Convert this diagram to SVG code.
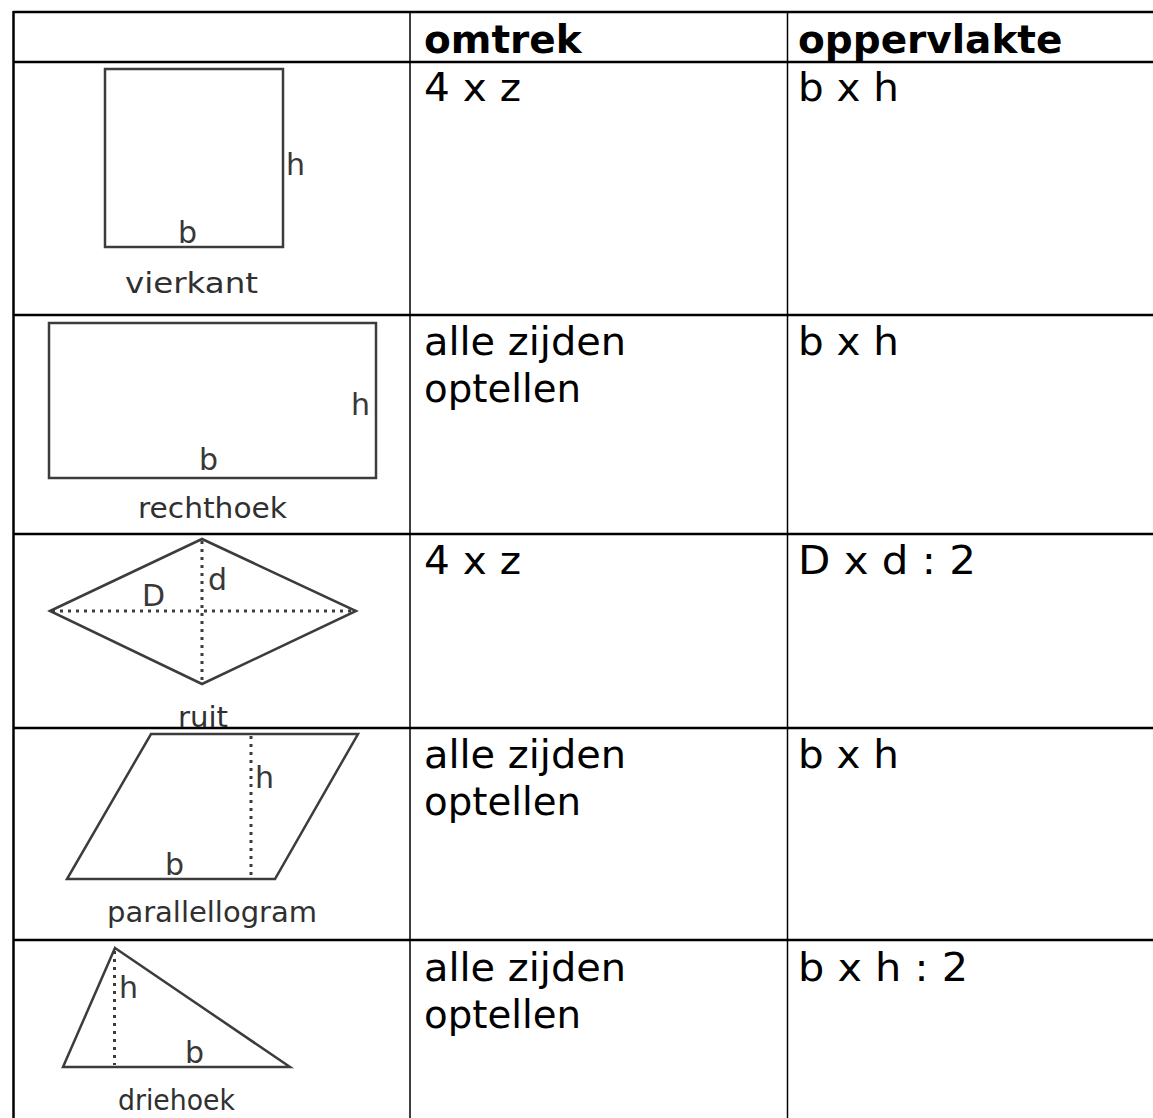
<svg xmlns="http://www.w3.org/2000/svg" width="1153" height="1118" viewBox="0 0 1153 1118">
<style>
.grid line{stroke:#000;stroke-width:2.5}
.grid .thin{stroke-width:1.5}
.hd{font-family:"DejaVu Sans","Liberation Sans",sans-serif;font-weight:bold;font-size:39px;fill:#000}
.tx{font-family:"DejaVu Sans","Liberation Sans",sans-serif;font-size:39px;fill:#000}
.sh{fill:none;stroke:#3c3c3c;stroke-width:2.5;stroke-linejoin:miter}
.dot{fill:none;stroke:#3c3c3c;stroke-width:3;stroke-dasharray:3 5}
.lb{font-family:"DejaVu Sans","Liberation Sans",sans-serif;font-size:30px;fill:#383838}
.nm{font-family:"DejaVu Sans","Liberation Sans",sans-serif;font-size:29px;fill:#303030}
</style>
<rect width="1153" height="1118" fill="#fff"/>
<g id="grid" class="grid">
<line x1="13" y1="12" x2="1153" y2="12"/>
<line x1="13" y1="62" x2="1153" y2="62"/>
<line x1="13" y1="315" x2="1153" y2="315"/>
<line x1="13" y1="534" x2="1153" y2="534"/>
<line x1="13" y1="728" x2="1153" y2="728"/>
<line x1="13" y1="940" x2="1153" y2="940"/>
<line x1="13.5" y1="11" x2="13.5" y2="1118"/>
<line class="thin" x1="410" y1="12" x2="410" y2="1118"/>
<line class="thin" x1="787.5" y1="12" x2="787.5" y2="1118"/>
</g>
<g id="header">
<text class="hd" x="424" y="53">omtrek</text>
<text class="hd" x="798" y="53">oppervlakte</text>
</g>
<g id="vierkant">
<rect class="sh" x="105" y="69" width="178" height="178"/>
<text class="lb" x="286" y="175">h</text>
<text class="lb" x="178" y="243">b</text>
<text class="nm" x="125" y="293" textLength="133" lengthAdjust="spacingAndGlyphs">vierkant</text>
<text class="tx" x="424" y="101" textLength="97" lengthAdjust="spacingAndGlyphs">4 x z</text>
<text class="tx" x="798" y="101" textLength="101" lengthAdjust="spacingAndGlyphs">b x h</text>
</g>
<g id="rechthoek">
<rect class="sh" x="49" y="323" width="327" height="155"/>
<text class="lb" x="351" y="415">h</text>
<text class="lb" x="199" y="470">b</text>
<text class="nm" x="138" y="518" textLength="149" lengthAdjust="spacingAndGlyphs">rechthoek</text>
<text class="tx" x="424" y="355" textLength="202" lengthAdjust="spacingAndGlyphs">alle zijden</text>
<text class="tx" x="424" y="402" textLength="157" lengthAdjust="spacingAndGlyphs">optellen</text>
<text class="tx" x="798" y="355" textLength="101" lengthAdjust="spacingAndGlyphs">b x h</text>
</g>
<g id="ruit">
<polygon class="sh" points="50,611 202,539 356,611 202,684"/>
<line class="dot" x1="52" y1="611" x2="354" y2="611"/>
<line class="dot" x1="202" y1="541" x2="202" y2="682"/>
<text class="lb" x="142" y="606">D</text>
<text class="lb" x="208" y="590">d</text>
<text class="nm" x="178" y="727" textLength="50" lengthAdjust="spacingAndGlyphs">ruit</text>
<text class="tx" x="424" y="574" textLength="97" lengthAdjust="spacingAndGlyphs">4 x z</text>
<text class="tx" x="798" y="574" textLength="178" lengthAdjust="spacingAndGlyphs">D x d : 2</text>
</g>
<g id="parallellogram">
<polygon class="sh" points="151,734 358,734 275,879 67,879"/>
<line class="dot" x1="251" y1="736" x2="251" y2="878"/>
<text class="lb" x="255" y="788">h</text>
<text class="lb" x="165" y="875">b</text>
<text class="nm" x="107" y="922" textLength="210" lengthAdjust="spacingAndGlyphs">parallellogram</text>
<text class="tx" x="424" y="768" textLength="202" lengthAdjust="spacingAndGlyphs">alle zijden</text>
<text class="tx" x="424" y="815" textLength="157" lengthAdjust="spacingAndGlyphs">optellen</text>
<text class="tx" x="798" y="768" textLength="101" lengthAdjust="spacingAndGlyphs">b x h</text>
</g>
<g id="driehoek">
<polygon class="sh" points="115,948 290,1067 63,1067"/>
<line class="dot" x1="114.5" y1="951" x2="114.5" y2="1065"/>
<text class="lb" x="119" y="998">h</text>
<text class="lb" x="185" y="1063">b</text>
<text class="nm" x="118" y="1110" textLength="117" lengthAdjust="spacingAndGlyphs">driehoek</text>
<text class="tx" x="424" y="981" textLength="202" lengthAdjust="spacingAndGlyphs">alle zijden</text>
<text class="tx" x="424" y="1028" textLength="157" lengthAdjust="spacingAndGlyphs">optellen</text>
<text class="tx" x="798" y="981" textLength="170" lengthAdjust="spacingAndGlyphs">b x h : 2</text>
</g>
</svg>
